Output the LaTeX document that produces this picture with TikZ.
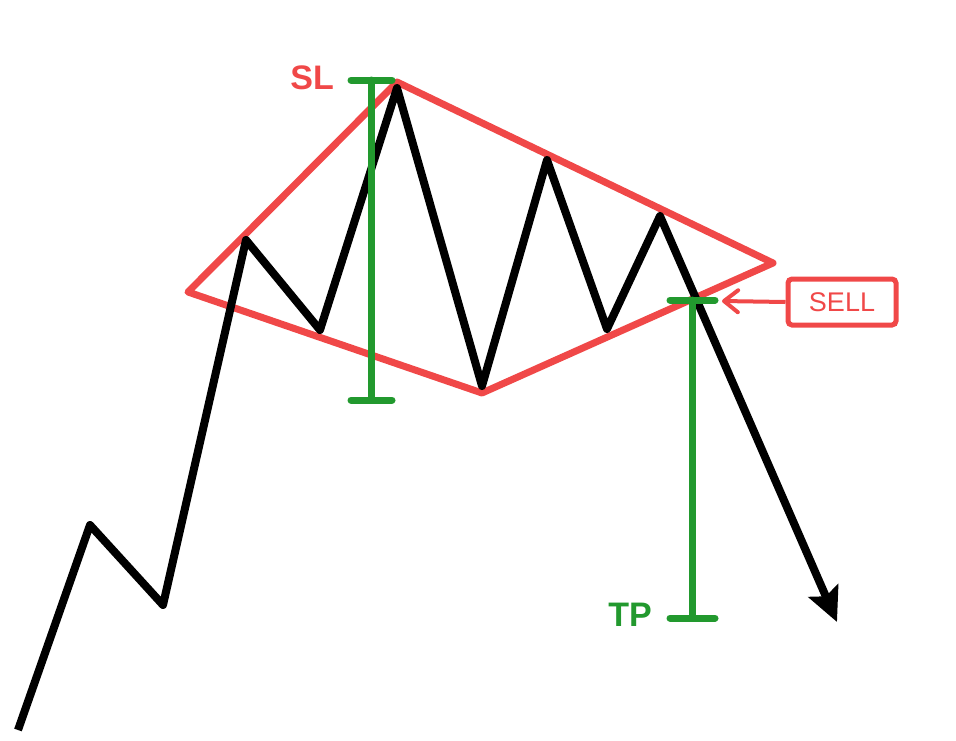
\documentclass[tikz,border=0pt]{standalone}
\usepackage{fontspec}
\setmainfont{Liberation Sans}
\usetikzlibrary{positioning,calc,arrows.meta}
\definecolor{slred}{RGB}{240,72,72}
\definecolor{tpgreen}{RGB}{34,153,46}
\tikzset{
  price/.style  = {line width=8pt, line join=round},
  wedge/.style  = {draw=slred, line width=7pt, line join=round},
  level/.style  = {draw=tpgreen, line width=7pt, line cap=round},
  tag/.style    = {font=\bfseries\fontsize{34}{34}\selectfont, inner sep=0pt},
  signal/.style = {draw=slred, line width=5pt, rounded corners=4pt,
                   minimum width=108pt, minimum height=46pt, text=slred,
                   font=\fontsize{27}{27}\selectfont},
  post/.style   = {-{Straight Barb[length=14pt,width=22pt,round]}, draw=slred,
                   line width=4pt}
}

\begin{document}
\begin{tikzpicture}[x=1pt,y=-1pt]
  \useasboundingbox (0,0) rectangle (956,740);
  % diamond top pattern
  \draw[wedge] (188,292) -- (397,82) -- (773,263) -- (482,393) -- cycle;
  % price action
  \coordinate (p0) at (18,730);
  \coordinate (p1) at (90,525);
  \coordinate (p2) at (163,605);
  \coordinate (p3) at (246,240);
  \coordinate (p4) at (320,330);
  \coordinate (p5) at (397,88);
  \coordinate (p6) at (482,386);
  \coordinate (p7) at (547,160);
  \coordinate (p8) at (607,329);
  \coordinate (p9) at (660,216);
  \coordinate (p10) at (837,622);
  \draw[price, -{Stealth[length=34pt,width=32pt,inset=6pt]}]
    (p0) -- (p1) -- (p2) -- (p3) -- (p4) -- (p5) -- (p6)
    -- (p7) -- (p8) -- (p9) -- (p10);
  % stop loss
  \coordinate (sltop) at (371,80);
  \coordinate (slbot) at (371,400);
  \draw[level] (sltop) -- (slbot);
  \draw[level] ($(sltop)+(-20,0)$) -- ($(sltop)+(21,0)$);
  \draw[level] ($(slbot)+(-20,0)$) -- ($(slbot)+(21,0)$);
  \node[tag, text=slred, anchor=east] (sl) at (334,78) {SL};
  % take profit
  \coordinate (tptop) at (692,300);
  \coordinate (tpbot) at (692,618);
  \draw[level] (tptop) -- (tpbot);
  \draw[level] ($(tptop)+(-22,0)$) -- ($(tptop)+(23,0)$);
  \draw[level] ($(tpbot)+(-22,0)$) -- ($(tpbot)+(23,0)$);
  \node[tag, text=tpgreen, anchor=east] (tp) at (652,615) {TP};
  % entry
  \node[signal] (sell) at (842,302) {SELL};
  \coordinate (entry) at (722,301);
  \draw[post] (sell.west) -- (entry);
\end{tikzpicture}
\end{document}
